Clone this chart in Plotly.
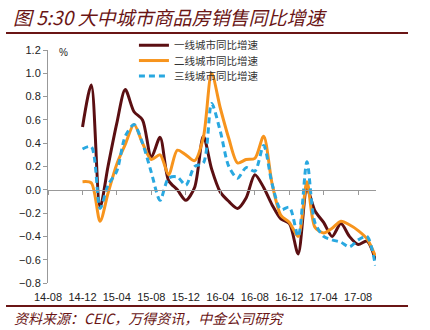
import plotly.graph_objects as go

# ---- data (monthly, 2014-12 .. 2017-10) ----
months = [
    "2014-12", "2015-01", "2015-02", "2015-03", "2015-04", "2015-05", "2015-06", "2015-07",
    "2015-08", "2015-09", "2015-10", "2015-11", "2015-12", "2016-01", "2016-02", "2016-03",
    "2016-04", "2016-05", "2016-06", "2016-07", "2016-08", "2016-09", "2016-10", "2016-11",
    "2016-12", "2017-01", "2017-02", "2017-03", "2017-04", "2017-05", "2017-06", "2017-07",
    "2017-08", "2017-09", "2017-10",
]
tier1 = [0.54, 0.90, -0.15, 0.20, 0.57, 0.86, 0.67, 0.60, 0.28, 0.45, 0.08, 0.00,
         -0.09, 0.02, 0.46, 0.18, -0.02, -0.10, -0.16, -0.07, 0.13, 0.02, -0.13, -0.25,
         -0.29, -0.55, 0.01, -0.18, -0.28, -0.40, -0.29, -0.40, -0.47, -0.44, -0.60]
tier2 = [0.07, 0.06, -0.27, -0.03, 0.22, 0.39, 0.56, 0.40, 0.26, 0.30, 0.13, 0.34,
         0.30, 0.25, 0.45, 1.00, 0.70, 0.44, 0.23, 0.26, 0.27, 0.46, 0.05, -0.22,
         -0.28, -0.40, 0.07, -0.32, -0.37, -0.33, -0.27, -0.30, -0.35, -0.42, -0.57]
tier3 = [0.35, 0.37, -0.16, 0.04, 0.16, 0.46, 0.56, 0.40, 0.15, -0.09, 0.10, 0.11,
         0.04, 0.20, 0.23, 0.74, 0.50, 0.20, 0.10, 0.19, 0.16, 0.38, 0.05, -0.17,
         -0.15, -0.40, 0.24, -0.28, -0.40, -0.43, -0.45, -0.49, -0.43, -0.40, -0.65]

names = ["一线城市同比增速", "二线城市同比增速", "三线城市同比增速"]
tick_labels = ["14-08", "14-12", "15-04", "15-08", "15-12", "16-04", "16-08", "16-12", "17-04", "17-08"]
tick_vals = ["20" + t + "-01" for t in tick_labels]

title_text = "图 5:30 大中城市商品房销售同比增速"
source_text = "资料来源：CEIC，万得资讯，中金公司研究"

dates = [m + "-01" for m in months]

C1 = "#5B0F12"
C2 = "#F7941D"
C3 = "#29A8E0"
TITLE_C = "#6A1515"
CJK = "Noto Sans CJK SC"
LAT = "Liberation Sans, Arial, sans-serif"

fig = go.Figure()
fig.add_trace(go.Scatter(x=dates, y=tier1, name=names[0], mode="lines", legend="legend",
                         line=dict(color=C1, width=3, shape="spline", smoothing=0.8)))
fig.add_trace(go.Scatter(x=dates, y=tier2, name=names[1], mode="lines", legend="legend2",
                         line=dict(color=C2, width=3, shape="spline", smoothing=0.8)))
fig.add_trace(go.Scatter(x=dates, y=tier3, name=names[2], mode="lines", legend="legend3",
                         line=dict(color=C3, width=3, dash="6px,4px", shape="spline", smoothing=0.8)))
# invisible trace to carry the zero-crossing axis
fig.add_trace(go.Scatter(x=dates, y=tier1, xaxis="x2", mode="lines", showlegend=False,
                         hoverinfo="skip", line=dict(color="rgba(0,0,0,0)", width=0)))

xrange = ["2014-08-01", "2017-10-03"]

leg_common = dict(x=0.262, xanchor="left", yanchor="top",
                  font=dict(family=CJK, size=10.5, color="#333"),
                  bgcolor="rgba(0,0,0,0)", itemwidth=30)

fig.update_layout(
    width=430, height=330,
    margin=dict(l=48, r=54, t=50, b=47),
    paper_bgcolor="white", plot_bgcolor="white",
    font=dict(family=LAT, size=11, color="#222"),
    showlegend=True,
    legend=dict(y=1.083, **leg_common),
    legend2=dict(y=1.017, **leg_common),
    legend3=dict(y=0.951, **leg_common),
    xaxis=dict(type="date", range=xrange, tickvals=tick_vals, ticktext=tick_labels,
               showline=False, showgrid=False, zeroline=False, ticks="",
               ticklabelstandoff=6, tickfont=dict(family=LAT, size=11, color="#222")),
    xaxis2=dict(type="date", range=xrange, overlaying="x", anchor="free", position=0.4,
                tickvals=tick_vals, showticklabels=False, showline=True, linecolor="#999",
                linewidth=1, ticks="outside", ticklen=4, tickcolor="#999",
                showgrid=False, zeroline=False),
    yaxis=dict(range=[-0.8, 1.2], dtick=0.2, tickformat=".1f", showgrid=False,
               zeroline=False, showline=True, linecolor="#999", linewidth=1,
               ticks="outside", ticklen=4, tickcolor="#999",
               tickfont=dict(family=LAT, size=11, color="#222")),
)

fig.add_annotation(text="%", xref="paper", yref="paper", x=0.046, y=0.99,
                   showarrow=False, font=dict(family=LAT, size=10, color="#222"),
                   xanchor="center", yanchor="middle")
fig.add_annotation(text="<i>" + title_text + "</i>", xref="paper", yref="paper",
                   x=-0.112, y=1.145, xanchor="left", yanchor="middle", showarrow=False,
                   font=dict(family=CJK, size=19, color=TITLE_C))
fig.add_annotation(text="<i>" + source_text + "</i>", xref="paper", yref="paper",
                   x=-0.11, y=-0.152, xanchor="left", yanchor="middle", showarrow=False,
                   font=dict(family=CJK, size=14, color=TITLE_C))
fig.add_shape(type="line", xref="paper", yref="paper", x0=-0.128, x1=1.0976,
              y0=1.073, y1=1.073, line=dict(color=TITLE_C, width=2))
fig.add_shape(type="line", xref="paper", yref="paper", x0=-0.128, x1=1.0976,
              y0=-0.0987, y1=-0.0987, line=dict(color=TITLE_C, width=2))

fig.write_html("out.html")
